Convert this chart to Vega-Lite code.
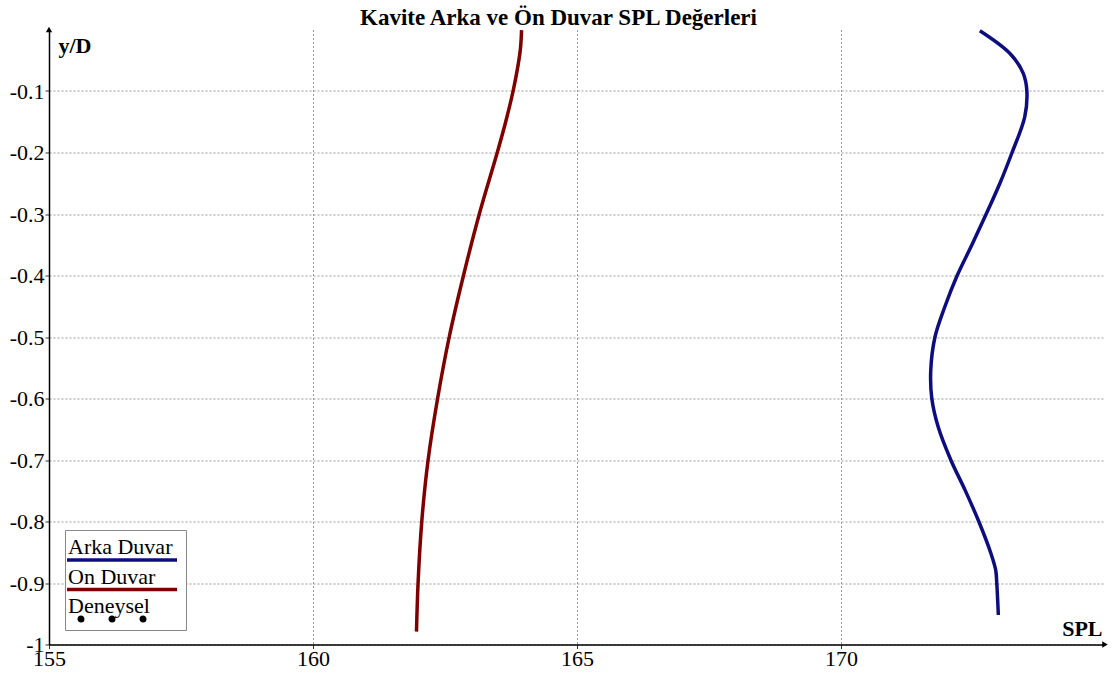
{
  "$schema": "https://vega.github.io/schema/vega-lite/v6.json",
  "width": 1056,
  "height": 615,
  "autosize": {"type": "none"},
  "padding": {"left": 49, "top": 29.5, "right": 13, "bottom": 30.5},
  "background": "white",
  "title": {
    "text": "Kavite Arka ve Ön Duvar SPL Değerleri",
    "font": "Liberation Serif",
    "fontSize": 23,
    "fontWeight": "bold",
    "color": "black",
    "anchor": "middle",
    "frame": "group",
    "baseline": "alphabetic",
    "dx": -18.5,
    "dy": 28,
    "offset": 3
  },
  "config": {
    "view": {"stroke": null},
    "axis": {
      "domainColor": "black",
      "domainWidth": 1.5,
      "tickColor": "#333",
      "tickSize": 4,
      "gridColor": "#9a9a9a",
      "gridDash": [2, 2],
      "gridWidth": 1,
      "labelFont": "Liberation Serif",
      "labelFontSize": 22,
      "labelColor": "black",
      "titleFont": "Liberation Serif",
      "titleFontSize": 22,
      "titleFontWeight": "bold",
      "titleColor": "black",
      "labelOverlap": false,
      "labelBound": false,
      "labelFlush": false
    },
    "legend": {
      "orient": "none",
      "legendX": 16,
      "legendY": 500.5,
      "direction": "vertical",
      "padding": 2,
      "strokeColor": "#888888",
      "fillColor": "white",
      "titleFontSize": 10,
      "titlePadding": 7,
      "titleColor": "white",
      "symbolType": "M-2.2,0L19.8,0",
      "symbolSize": 100,
      "symbolStrokeWidth": 3.5,
      "symbolOpacity": 1,
      "labelOffset": -21,
      "labelFont": "Liberation Serif",
      "labelFontSize": 22,
      "labelColor": "black",
      "labelBaseline": "line-bottom",
      "labelLineHeight": 25,
      "rowPadding": -1.5
    }
  },
  "data": {
    "values": [
      {"seri": "Arka Duvar", "SPL": 172.63, "yD": -0.002},
      {"seri": "Arka Duvar", "SPL": 173.2, "yD": -0.039},
      {"seri": "Arka Duvar", "SPL": 173.45, "yD": -0.071},
      {"seri": "Arka Duvar", "SPL": 173.52, "yD": -0.1},
      {"seri": "Arka Duvar", "SPL": 173.48, "yD": -0.142},
      {"seri": "Arka Duvar", "SPL": 173.24, "yD": -0.2},
      {"seri": "Arka Duvar", "SPL": 173.01, "yD": -0.25},
      {"seri": "Arka Duvar", "SPL": 172.75, "yD": -0.3},
      {"seri": "Arka Duvar", "SPL": 172.48, "yD": -0.35},
      {"seri": "Arka Duvar", "SPL": 172.2, "yD": -0.4},
      {"seri": "Arka Duvar", "SPL": 171.97, "yD": -0.45},
      {"seri": "Arka Duvar", "SPL": 171.78, "yD": -0.5},
      {"seri": "Arka Duvar", "SPL": 171.7, "yD": -0.554},
      {"seri": "Arka Duvar", "SPL": 171.72, "yD": -0.6},
      {"seri": "Arka Duvar", "SPL": 171.84, "yD": -0.646},
      {"seri": "Arka Duvar", "SPL": 172.08, "yD": -0.7},
      {"seri": "Arka Duvar", "SPL": 172.35, "yD": -0.749},
      {"seri": "Arka Duvar", "SPL": 172.61, "yD": -0.8},
      {"seri": "Arka Duvar", "SPL": 172.84, "yD": -0.852},
      {"seri": "Arka Duvar", "SPL": 172.93, "yD": -0.879},
      {"seri": "Arka Duvar", "SPL": 172.95, "yD": -0.9},
      {"seri": "Arka Duvar", "SPL": 172.98, "yD": -0.952},
      {"seri": "On Duvar", "SPL": 163.95, "yD": -0.001},
      {"seri": "On Duvar", "SPL": 163.93, "yD": -0.03},
      {"seri": "On Duvar", "SPL": 163.88, "yD": -0.06},
      {"seri": "On Duvar", "SPL": 163.79, "yD": -0.1},
      {"seri": "On Duvar", "SPL": 163.65, "yD": -0.15},
      {"seri": "On Duvar", "SPL": 163.49, "yD": -0.2},
      {"seri": "On Duvar", "SPL": 163.15, "yD": -0.3},
      {"seri": "On Duvar", "SPL": 162.85, "yD": -0.4},
      {"seri": "On Duvar", "SPL": 162.58, "yD": -0.5},
      {"seri": "On Duvar", "SPL": 162.36, "yD": -0.6},
      {"seri": "On Duvar", "SPL": 162.18, "yD": -0.7},
      {"seri": "On Duvar", "SPL": 162.06, "yD": -0.8},
      {"seri": "On Duvar", "SPL": 161.99, "yD": -0.9},
      {"seri": "On Duvar", "SPL": 161.96, "yD": -0.979}
    ]
  },
  "encoding": {
    "x": {
      "field": "SPL",
      "type": "quantitative",
      "scale": {"domain": [155, 175], "nice": false, "zero": false},
      "axis": {
        "values": [155, 160, 165, 170],
        "title": "SPL",
        "titleAlign": "right",
        "titleBaseline": "alphabetic",
        "titleX": 1053,
        "titleY": -9.5,
        "labelPadding": 0
      }
    },
    "y": {
      "field": "yD",
      "type": "quantitative",
      "scale": {"domain": [-1, 0], "nice": false, "zero": false},
      "axis": {
        "values": [-1, -0.9, -0.8, -0.7, -0.6, -0.5, -0.4, -0.3, -0.2, -0.1],
        "labelExpr": "'' + datum.value",
        "title": "y/D",
        "titleAngle": 0,
        "titleAlign": "left",
        "titleBaseline": "alphabetic",
        "titleX": 9,
        "titleY": 22.5,
        "labelPadding": 1
      }
    }
  },
  "layer": [
    {
      "mark": {"type": "line", "strokeWidth": 3.5, "interpolate": "catmull-rom", "clip": false},
      "encoding": {
        "order": {"field": "yD", "type": "quantitative"},
        "color": {
          "field": "seri",
          "type": "nominal",
          "title": " ",
          "scale": {
            "domain": ["Arka Duvar", "On Duvar", "Deneysel"],
            "range": ["#0d0d80", "#800000", "black"]
          }
        }
      }
    },
    {
      "transform": [{"filter": "datum.seri === 'Deneysel'"}],
      "mark": {"type": "point", "filled": false, "strokeWidth": 3.5, "clip": false},
      "encoding": {
        "color": {
          "field": "seri",
          "type": "nominal",
          "title": " ",
          "scale": {
            "domain": ["Arka Duvar", "On Duvar", "Deneysel"],
            "range": ["#0d0d80", "#800000", "black"]
          }
        },
        "shape": {
          "field": "seri",
          "type": "nominal",
          "title": " ",
          "scale": {
            "domain": ["Arka Duvar", "On Duvar", "Deneysel"],
            "range": [
              "M-2.2,0L19.8,0",
              "M-2.2,0L19.8,0",
              "M0.25,0A0.35,0.35,0,1,0,0.95,0A0.35,0.35,0,1,0,0.25,0ZM6.45,0A0.35,0.35,0,1,0,7.15,0A0.35,0.35,0,1,0,6.45,0ZM12.65,0A0.35,0.35,0,1,0,13.35,0A0.35,0.35,0,1,0,12.65,0Z"
            ]
          }
        }
      }
    },
    {
      "data": {"values": [{"SPL": 155, "yD": 0}]},
      "mark": {"type": "point", "shape": "triangle-up", "filled": true, "color": "black", "size": 40, "opacity": 1, "clip": false}
    },
    {
      "data": {"values": [{"SPL": 175, "yD": -1}]},
      "mark": {"type": "point", "shape": "triangle-right", "filled": true, "color": "black", "size": 40, "opacity": 1, "clip": false}
    }
  ]
}
